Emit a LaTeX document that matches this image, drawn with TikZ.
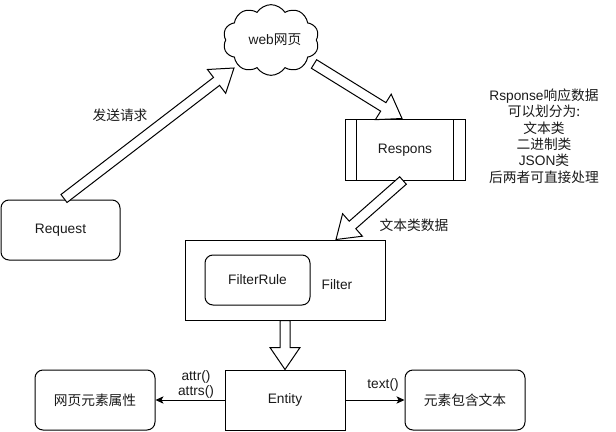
\documentclass[tikz,border=0pt]{standalone}
\usepackage{fontspec}
\setmainfont{Liberation Sans}
\newfontfamily\cjk{Noto Sans CJK SC}
\usetikzlibrary{shapes.symbols,calc,arrows.meta}
\newcommand\fatarr[2]{%
  \coordinate (fH) at ($(#2)!16.5pt!(#1)$);
  \draw[fatarrow] ($(#1)!3.75pt!90:(#2)$) -- ($(fH)!3.75pt!90:(#2)$) -- ($(fH)!11.25pt!90:(#2)$)
    -- (#2) -- ($(fH)!11.25pt!-90:(#2)$) -- ($(fH)!3.75pt!-90:(#2)$) -- ($(#1)!3.75pt!-90:(#2)$) -- cycle;}
\definecolor{txt}{HTML}{1A1A1A}
\begin{document}
\begin{tikzpicture}[x=0.75pt,y=-0.75pt, line width=0.75pt,
  font=\fontsize{10.3}{12}\selectfont,
  box/.style={draw, inner sep=0pt, minimum width=90pt, minimum height=45pt, text=txt},
  rbox/.style={box, rounded corners=6pt},
  lbl/.style={inner sep=0pt, align=center, text=txt},
  fatarrow/.style={draw, fill=white, line join=miter},
  conn/.style={-{Stealth[length=6pt,width=5.5pt,inset=1.5pt]}}]
\useasboundingbox (0,0) rectangle (616,431);

\node[cloud, draw, cloud puffs=10, cloud puff arc=115, aspect=1.37,
  minimum width=72pt, minimum height=53pt, inner sep=0pt] (web) at (271,40) {};
\node[lbl] (webt) at (275,40) {web{\cjk 网页}};

\node[rbox, minimum width=89.25pt] (req) at (60.5,230) {Request};
\node[box] (resp) at (405,150) {Respons};
\draw ([xshift=9pt]resp.north west) -- ([xshift=9pt]resp.south west);
\draw ([xshift=-9pt]resp.north east) -- ([xshift=-9pt]resp.south east);

\node[lbl, font=\fontsize{10.3}{12.3}\selectfont] (note) at (544,136)
  {Rsponse{\cjk 响应数据}\\{\cjk 可以划分为:}\\{\cjk 文本类}\\{\cjk 二进制类}\\JSON{\cjk 类}\\{\cjk 后两者可直接处理}};

\node[box, minimum width=150pt, minimum height=60pt] (filter) at (285,280) {};
\node[rbox, minimum width=78.75pt, minimum height=37.5pt] (rule) at (257.5,280) {FilterRule};
\node[lbl] (filtert) at (337,285) {Filter};

\node[box] (entity) at (285,400) {Entity};
\node[rbox] (lb) at (95,400) {\cjk 网页元素属性};
\node[rbox] (rb) at (465,400) {\cjk 元素包含文本};

\coordinate (a1s) at ($(req.north)+(3.5,-1)$);
\coordinate (a1e) at ($(web.center)+(-37,28)$);
\coordinate (a2s) at ($(web.center)+(43,24)$);
\coordinate (a2e) at ($(resp.north)+(-3,-1)$);
\coordinate (a3s) at ($(resp.south)+(-2,0)$);
\coordinate (a3e) at ($(filter.north)+(51,0)$);
\coordinate (a4s) at (filter.south);
\coordinate (a4e) at (entity.north);

\fatarr{a1s}{a1e}
\fatarr{a2s}{a2e}
\fatarr{a3s}{a3e}
\fatarr{a4s}{a4e}

\node[lbl] (l1) at (120,115) {\cjk 发送请求};
\node[lbl] (l2) at (414,225) {\cjk 文本类数据};

\draw[conn] (entity.west) -- (lb.east);
\draw[conn] (entity.east) -- (rb.west);
\node[lbl, font=\fontsize{10.3}{11.5}\selectfont] (l3) at (196,384.5) {attr()\\attrs()};
\node[lbl] (l4) at (383,385) {text()};
\end{tikzpicture}
\end{document}
